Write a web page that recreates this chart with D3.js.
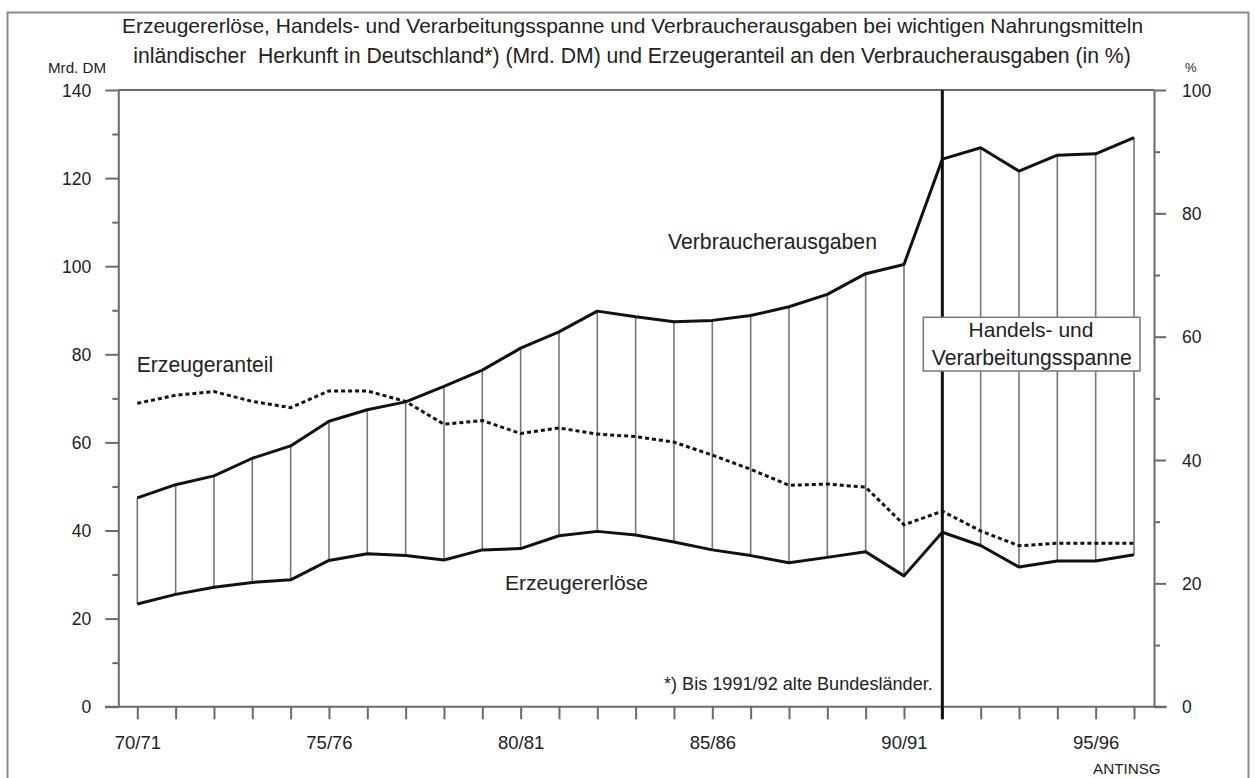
<!DOCTYPE html>
<html><head><meta charset="utf-8">
<script src="https://cdn.jsdelivr.net/npm/d3@7"></script>
<style>
html,body{margin:0;padding:0;background:#fff;}
svg{display:block;font-family:"Liberation Sans",Arial,sans-serif;}
</style></head>
<body>
<svg id="c" width="1255" height="778"></svg>
<script>
// ---- data ----
const years = ["70/71","71/72","72/73","73/74","74/75","75/76","76/77","77/78","78/79","79/80",
  "80/81","81/82","82/83","83/84","84/85","85/86","86/87","87/88","88/89","89/90",
  "90/91","91/92","92/93","93/94","94/95","95/96","96/97"];
const verbraucherausgaben = [47.4,50.4,52.4,56.4,59.2,64.8,67.4,69.2,72.7,76.4,
  81.4,85.1,89.8,88.5,87.4,87.7,88.8,90.8,93.6,98.3,
  100.4,124.3,126.9,121.6,125.2,125.5,129.2];
const erzeugererloese = [23.3,25.5,27.1,28.2,28.8,33.2,34.7,34.3,33.3,35.6,
  35.9,38.8,39.8,39.0,37.4,35.6,34.3,32.7,33.9,35.2,
  29.7,39.6,36.6,31.7,33.1,33.1,34.5];
const erzeugeranteil = [49.2,50.5,51.1,49.5,48.5,51.2,51.2,49.5,45.8,46.4,
  44.3,45.2,44.2,43.8,42.9,40.8,38.5,35.9,36.1,35.6,
  29.5,31.7,28.5,26.1,26.5,26.5,26.5];
const xTickLabels = ["70/71","75/76","80/81","85/86","90/91","95/96"];
const leftTicks = [0,20,40,60,80,100,120,140];
const rightTicks = [0,20,40,60,80,100];
const breakYear = "91/92";
const titleLines = ["Erzeugererlöse, Handels- und Verarbeitungsspanne und Verbraucherausgaben bei wichtigen Nahrungsmitteln",
  "inländischer  Herkunft in Deutschland*) (Mrd. DM) und Erzeugeranteil an den Verbraucherausgaben (in %)"];

// ---- layout ----
const svg = d3.select("#c");
const L = 118.3, R = 1154, T = 90, B = 706.7;
const x = d3.scaleLinear().domain([0, years.length-1]).range([137.3, 1134]);
const y = d3.scaleLinear().domain([0,140]).range([B,T]);
const yp = d3.scaleLinear().domain([0,100]).range([B,T]);
const AX = "#6a6a6a";

function fit(sel, w){
  const n = sel.node(); let fs = parseFloat(sel.attr("font-size"));
  const cur = n.getComputedTextLength();
  if(cur>0) sel.attr("font-size", (fs*w/cur).toFixed(2));
  return sel;
}

// outer frame
svg.append("rect").attr("x",7.5).attr("y",12.5).attr("width",1241).attr("height",800)
  .attr("fill","none").attr("stroke","#8a8a8a").attr("stroke-width",2);

// title
const tl = [{t:titleLines[0], cx:632.5, y:33, w:1021},{t:titleLines[1], cx:632, y:63, w:998}];
tl.forEach(d=>{
  const s = svg.append("text").attr("x",d.cx).attr("y",d.y).attr("text-anchor","middle")
    .attr("font-size",18).attr("fill","#222").style("white-space","pre").text(d.t);
  fit(s,d.w);
});

// hatch verticals (Handels- und Verarbeitungsspanne)
svg.append("g").selectAll("line").data(years).join("line")
  .attr("x1",(d,i)=>x(i)).attr("x2",(d,i)=>x(i))
  .attr("y1",(d,i)=>y(erzeugererloese[i])).attr("y2",(d,i)=>y(verbraucherausgaben[i]))
  .attr("stroke","#777").attr("stroke-width",1.6);

// left axis
const gl = svg.append("g").attr("transform",`translate(${L},0)`);
gl.call(d3.axisLeft(y).tickValues(d3.range(0,141,10)).tickSize(0).tickFormat(""));
gl.select(".domain").attr("stroke",AX).attr("stroke-width",2);
gl.selectAll(".tick line").remove();
gl.selectAll(".tick").append("line").attr("x1",d=>d%20===0?-13:-6).attr("x2",0)
  .attr("stroke",AX).attr("stroke-width",2);
gl.selectAll(".tick").filter(d=>leftTicks.includes(d)).append("text")
  .attr("x",-27).attr("dy","0.35em").attr("text-anchor","end").attr("fill","#222")
  .attr("font-size",17.5).text(d=>d);

// right axis
const gr = svg.append("g").attr("transform",`translate(${R},0)`);
gr.call(d3.axisRight(yp).tickValues(d3.range(0,101,10)).tickSize(0).tickFormat(""));
gr.select(".domain").attr("stroke",AX).attr("stroke-width",2);
gr.selectAll(".tick line").remove();
gr.selectAll(".tick").append("line").attr("x1",0).attr("x2",d=>d%20===0?12:6)
  .attr("stroke",AX).attr("stroke-width",2);
gr.selectAll(".tick").filter(d=>rightTicks.includes(d)).append("text")
  .attr("x",28).attr("dy","0.35em").attr("text-anchor","start").attr("fill","#222")
  .attr("font-size",17.5).text(d=>d);

// top line
svg.append("line").attr("x1",L).attr("x2",R).attr("y1",T).attr("y2",T)
  .attr("stroke",AX).attr("stroke-width",2);

// bottom axis
const gb = svg.append("g").attr("transform",`translate(0,${B})`);
gb.call(d3.axisBottom(x).tickValues(d3.range(years.length)).tickSize(12.6).tickFormat(""));
gb.select(".domain").remove();
gb.selectAll(".tick line").attr("stroke",AX).attr("stroke-width",2);
gb.selectAll(".tick").filter(d=>xTickLabels.includes(years[d])).append("text")
  .attr("y",36).attr("dy","0.35em").attr("text-anchor","middle").attr("fill","#222")
  .attr("font-size",18.5).text(d=>years[d]);
svg.append("line").attr("x1",105).attr("x2",1166.7).attr("y1",B).attr("y2",B)
  .attr("stroke",AX).attr("stroke-width",2);

// unit labels
fit(svg.append("text").attr("x",48).attr("y",72.5).attr("font-size",13).attr("fill","#222").text("Mrd. DM"),58);
svg.append("text").attr("x",1185).attr("y",72).attr("font-size",13).attr("fill","#222").text("%");

// break line at 91/92
const bi = years.indexOf(breakYear);
svg.append("line").attr("x1",x(bi)).attr("x2",x(bi)).attr("y1",T).attr("y2",B+12.6)
  .attr("stroke","#111").attr("stroke-width",3);

// lines
const line = d3.line().x((d,i)=>x(i));
svg.append("path").datum(verbraucherausgaben).attr("d",line.y(d=>y(d)))
  .attr("fill","none").attr("stroke","#111").attr("stroke-width",3).attr("stroke-linejoin","round");
svg.append("path").datum(erzeugererloese).attr("d",d3.line().x((d,i)=>x(i)).y(d=>y(d)))
  .attr("fill","none").attr("stroke","#111").attr("stroke-width",3).attr("stroke-linejoin","round");
svg.append("path").datum(erzeugeranteil).attr("d",d3.line().x((d,i)=>x(i)).y(d=>yp(d)))
  .attr("fill","none").attr("stroke","#111").attr("stroke-width",3).attr("stroke-dasharray","4,3");

// series labels
fit(svg.append("text").attr("x",668).attr("y",249).attr("font-size",18).attr("fill","#222").text("Verbraucherausgaben"),209);
fit(svg.append("text").attr("x",136.7).attr("y",372).attr("font-size",18).attr("fill","#222").text("Erzeugeranteil"),136.6);
fit(svg.append("text").attr("x",505).attr("y",590).attr("font-size",18).attr("fill","#222").text("Erzeugererlöse"),143);
fit(svg.append("text").attr("x",664).attr("y",690).attr("font-size",15).attr("fill","#222").text("*) Bis 1991/92 alte Bundesländer."),269);

// box
svg.append("rect").attr("x",923.3).attr("y",317.3).attr("width",216.7).attr("height",53.7)
  .attr("fill","#fff").attr("stroke","#777").attr("stroke-width",1.5);
fit(svg.append("text").attr("x",1031).attr("y",337).attr("text-anchor","middle").attr("font-size",18).attr("fill","#222").text("Handels- und"),125);
fit(svg.append("text").attr("x",1031.7).attr("y",364.5).attr("text-anchor","middle").attr("font-size",18).attr("fill","#222").text("Verarbeitungsspanne"),200);

// source
fit(svg.append("text").attr("x",1093).attr("y",774).attr("font-size",12).attr("fill","#222").text("ANTINSG"),67.7);
</script>
</body></html>
